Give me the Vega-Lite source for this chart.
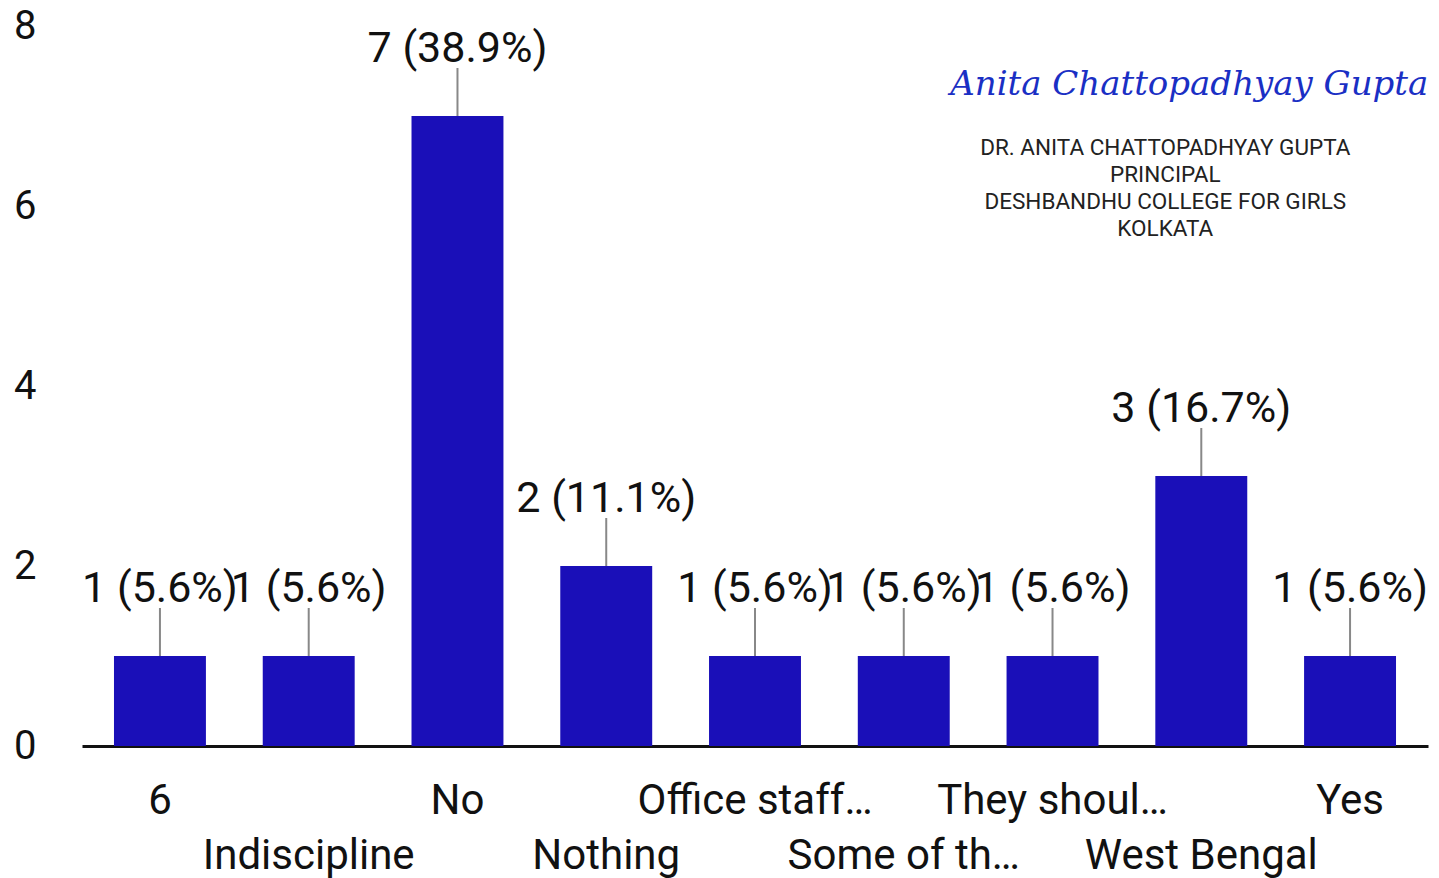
{
  "$schema": "https://vega.github.io/schema/vega-lite/v6.json",
  "width": 1346,
  "height": 720,
  "autosize": {"type": "none"},
  "padding": {"left": 82, "top": 26, "right": 11, "bottom": 132},
  "background": "white",
  "config": {"view": {"stroke": null}, "font": "Roboto"},
  "data": {
    "values": [
      {"answer": "6", "count": 1, "label": "1 (5.6%)"},
      {"answer": "Indiscipline", "count": 1, "label": "1 (5.6%)"},
      {"answer": "No", "count": 7, "label": "7 (38.9%)"},
      {"answer": "Nothing", "count": 2, "label": "2 (11.1%)"},
      {"answer": "Office staff…", "count": 1, "label": "1 (5.6%)"},
      {"answer": "Some of th…", "count": 1, "label": "1 (5.6%)"},
      {"answer": "They shoul…", "count": 1, "label": "1 (5.6%)"},
      {"answer": "West Bengal", "count": 3, "label": "3 (16.7%)"},
      {"answer": "Yes", "count": 1, "label": "1 (5.6%)"}
    ]
  },
  "encoding": {
    "x": {
      "field": "answer", "type": "nominal", "sort": null,
      "scale": {"paddingInner": 0.382, "paddingOuter": 0.215},
      "axis": {
        "title": null, "domainColor": "#111111", "domainWidth": 3, "ticks": false,
        "labelAngle": 0, "labelFont": "Roboto", "labelFontSize": 42, "labelColor": "#111111",
        "labelPadding": 54, "labelLimit": 500, "labelOverlap": false, "labelLineHeight": 55,
        "labelBaseline": "middle",
        "labelExpr": "indexof(['Indiscipline','Nothing','Some of th…','West Bengal'], datum.label) >= 0 ? ['', datum.label] : datum.label"
      }
    },
    "y": {
      "field": "count", "type": "quantitative",
      "scale": {"domain": [0, 8], "nice": false},
      "axis": {
        "title": null, "domain": false, "ticks": false, "grid": false, "values": [0, 2, 4, 6, 8],
        "labelFont": "Roboto", "labelFontSize": 40, "labelColor": "#111111", "labelPadding": 46
      }
    }
  },
  "layer": [
    {"mark": {"type": "bar", "color": "#1a0fb8"}},
    {
      "mark": {"type": "rule", "color": "#888888", "strokeWidth": 2, "y2Offset": -48},
      "encoding": {"y2": {"field": "count"}}
    },
    {
      "mark": {"type": "text", "font": "Roboto", "fontSize": 43, "color": "#111111", "baseline": "alphabetic", "dy": -54},
      "encoding": {"text": {"field": "label"}}
    },
    {
      "data": {"values": [{"sig": "Anita Chattopadhyay Gupta", "pos": 7.34}]},
      "mark": {"type": "text", "font": "DejaVu Serif", "fontStyle": "italic", "fontSize": 34, "color": "#1a2fc4", "dx": -12, "baseline": "middle"},
      "encoding": {
        "x": {"datum": "West Bengal"},
        "y": {"field": "pos", "type": "quantitative"},
        "text": {"field": "sig"}
      }
    },
    {
      "data": {"values": [
        {"line": "DR. ANITA CHATTOPADHYAY GUPTA", "pos": 6.64},
        {"line": "PRINCIPAL", "pos": 6.34},
        {"line": "DESHBANDHU COLLEGE FOR GIRLS", "pos": 6.04},
        {"line": "KOLKATA", "pos": 5.74}
      ]},
      "mark": {"type": "text", "font": "Roboto", "fontSize": 22.5, "color": "#222222", "dx": -36, "baseline": "middle"},
      "encoding": {
        "x": {"datum": "West Bengal"},
        "y": {"field": "pos", "type": "quantitative"},
        "text": {"field": "line"}
      }
    }
  ]
}
